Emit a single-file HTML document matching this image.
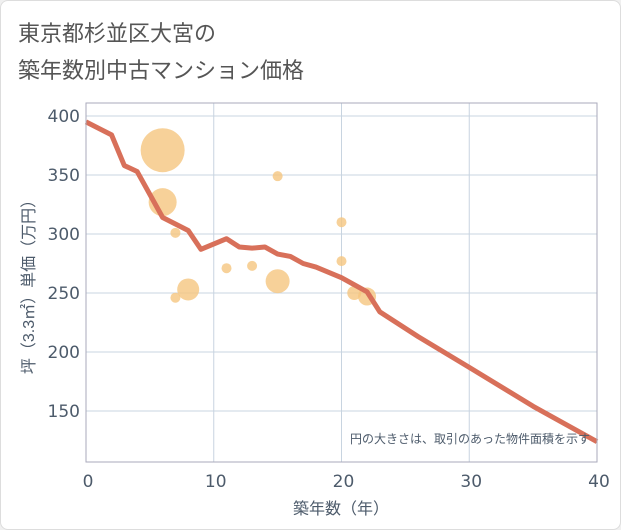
<!DOCTYPE html>
<html><head><meta charset="utf-8"><style>
body{margin:0;background:#f0f0f0;font-family:"Liberation Sans","Noto Sans CJK JP",sans-serif;}
#card{position:absolute;left:0;top:0;width:619px;height:528px;background:#fff;border:1px solid #ddd;border-radius:8px;}
</style></head><body>
<div id="card">
<svg width="621" height="530" style="position:absolute;left:-1px;top:-1px">
<text x="18" y="41" font-size="22" fill="#555" font-family="Liberation Sans, Noto Sans CJK JP, sans-serif">東京都杉並区大宮の</text>
<text x="18" y="78" font-size="22" fill="#555" font-family="Liberation Sans, Noto Sans CJK JP, sans-serif">築年数別中古マンション価格</text>
<g id="grid"></g>
<g id="bubbles"></g>
<g id="line"></g>
<g id="axes"></g>
<text x="590" y="443" font-size="12" fill="#4d5b6b" text-anchor="end" font-family="Liberation Sans, Noto Sans CJK JP, sans-serif">円の大きさは、取引のあった物件面積を示す</text>
<text x="341" y="514" font-size="16" fill="#4d5b6b" text-anchor="middle" font-family="Liberation Sans, Noto Sans CJK JP, sans-serif">築年数（年）</text>
<text transform="translate(34,283) rotate(-90)" font-size="16" fill="#4d5b6b" text-anchor="middle" font-family="Liberation Sans, Noto Sans CJK JP, sans-serif">坪（3.3㎡）単価（万円）</text>
</svg>
</div>
<script>
const xTicks=[0,10,20,30,40];
const yTicks=[150,200,250,300,350,400];
const lineYears=[0,2,3,4,6,8,9,11,12,13,14,15,16,17,18,20,22,23,26,30,35,40];
const linePrices=[395,384,358,353,314,303,287,296,289,288,289,283,281,275,272,263,251,234,213,187,154,124];
const bubbleYears=[6,6,7,7,8,11,13,15,15,20,20,21,22];
const bubblePrices=[371,327,301,246,253,271,273,260,349,310,277,250,247];
const bubbleSizes=[22,14,5,5,11,5,5,12,5,5,5,7,9];
const NS="http://www.w3.org/2000/svg";
const L=86,R=597,T=103,B=462;
const xs=v=>L+(R-L)*v/40;
const ys=v=>116+(400-v)*1.18;
function mk(t,a,p){const e=document.createElementNS(NS,t);for(const k in a)e.setAttribute(k,a[k]);p.appendChild(e);return e;}
const g=document.getElementById('grid'),ax=document.getElementById('axes');
xTicks.forEach(v=>{
 const l=mk('line',{x1:xs(v),x2:xs(v),y1:T,y2:B,stroke:'#c8d4e0','stroke-width':1},g);
 
 
 const t=mk('text',{x:xs(v)+2,y:487,'font-size':17,fill:'#4d5b6b','text-anchor':'middle','font-family':'DejaVu Sans, sans-serif'},ax);
 t.textContent=v;
 
 
});
yTicks.forEach(v=>{
 const l=mk('line',{x1:L,x2:R,y1:ys(v),y2:ys(v),stroke:'#c8d4e0','stroke-width':1},g);
 
 
 const t=mk('text',{x:80,y:ys(v)+6,'font-size':17,fill:'#4d5b6b','text-anchor':'end','font-family':'DejaVu Sans, sans-serif'},ax);
 t.textContent=v;
 
 
});
const fr=mk('rect',{x:L,y:T,width:R-L,height:B-T,fill:'none',stroke:'#aab','stroke-width':1},ax);


const bg=document.getElementById('bubbles');
bubbleYears.forEach((v,i)=>{
 const c=mk('circle',{cx:xs(v),cy:ys(bubblePrices[i]),r:bubbleSizes[i],fill:'#f5c57f','fill-opacity':0.8},bg);
 
 
});
const pts=lineYears.map((v,i)=>xs(v)+','+ys(linePrices[i])).join(' ');
const pl=mk('polyline',{points:pts,fill:'none',stroke:'#d8705a','stroke-width':5,'stroke-linejoin':'round'},document.getElementById('line'));


</script>
</body></html>
